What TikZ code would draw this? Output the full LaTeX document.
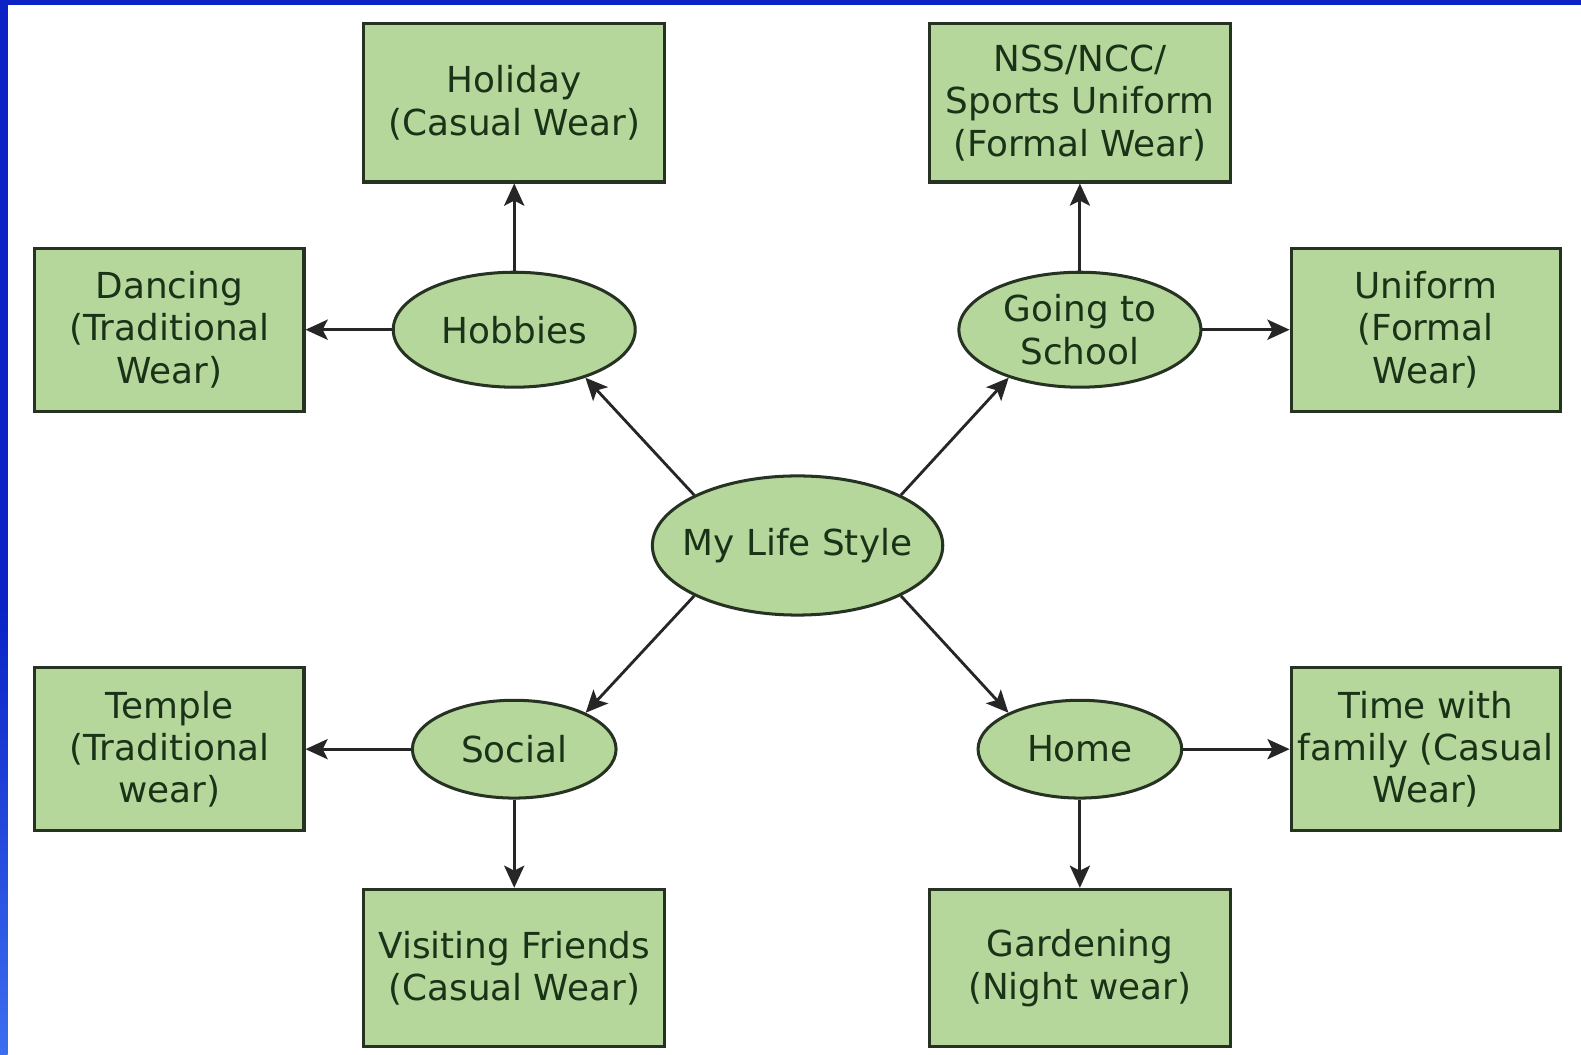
\documentclass[tikz,border=0pt]{standalone}
\usepackage{fontspec}
\setmainfont{DejaVu Sans}
\usetikzlibrary{shapes.geometric,arrows.meta}
\definecolor{boxfill}{RGB}{182,215,156}
\definecolor{boxline}{RGB}{38,50,34}
\definecolor{txt}{RGB}{26,50,23}
\definecolor{frameblue}{RGB}{10,34,198}
\definecolor{lightblue}{RGB}{60,110,240}
\tikzset{
  base/.style={fill=boxfill, draw=boxline, line width=3pt, text=txt, inner sep=0pt,
    font=\fontsize{35.5}{42}\selectfont, align=center},
  box/.style={base, rectangle, minimum width=#1},
  box/.default=299pt,
  oval/.style 2 args={base, ellipse, minimum width=#1, minimum height=#2},
  conn/.style={draw=black!85, line width=2.8pt, -{Stealth[length=22pt,width=20pt,inset=5pt]}}
}
\begin{document}
\begin{tikzpicture}[x=1pt,y=-1pt]
\useasboundingbox (0,0) rectangle (1568,1046);
\fill[white] (0,0) rectangle (1568,1046);
\fill[frameblue] (0,0) rectangle (1568,5);
\shade[top color=frameblue, bottom color=lightblue] (0,600) rectangle (7.6,1046);
\fill[frameblue] (0,0) rectangle (7.6,600);

% central and category ellipses
\node[oval={288pt}{138pt}] (c) at (791,541) {\makebox[0pt]{My Life Style}};
\node[oval={240pt}{114pt}] (hob) at (510,327) {Hobbies};
\node[oval={240pt}{114pt}] (sch) at (1071,327) {Going to\\School};
\node[oval={202pt}{97pt}] (soc) at (510,743) {Social};
\node[oval={202pt}{97pt}] (home) at (1071,743) {Home};

% boxes
\node[box, minimum height=157pt] (hol) at (510,102) {Holiday\\(Casual Wear)};
\node[box, minimum height=157pt] (nss) at (1071,102) {NSS/NCC/\\Sports Uniform\\(Formal Wear)};
\node[box=267pt, minimum height=162pt] (dan) at (168,327) {Dancing\\(Traditional\\Wear)};
\node[box=267pt, minimum height=162pt] (uni) at (1414,327) {Uniform\\(Formal\\Wear)};
\node[box=267pt, minimum height=162pt] (tem) at (168,743) {Temple\\(Traditional\\wear)};
\node[box=267pt, minimum height=162pt] (tim) at (1414,743) {Time with\\family (Casual\\Wear)};
\node[box, minimum height=156pt] (vis) at (510,960) {Visiting Friends\\(Casual Wear)};
\node[box, minimum height=156pt] (gar) at (1071,960) {Gardening\\(Night wear)};

% connectors
\draw[conn] (c.154) -- (hob.-34);
\draw[conn] (c.26) -- (sch.-146);
\draw[conn] (c.-154) -- (soc.27);
\draw[conn] (c.-26) -- (home.153);
\draw[conn] (hob.north) -- (hol.south);
\draw[conn] (hob.west) -- (dan.east);
\draw[conn] (sch.north) -- (nss.south);
\draw[conn] (sch.east) -- (uni.west);
\draw[conn] (soc.west) -- (tem.east);
\draw[conn] (soc.south) -- (vis.north);
\draw[conn] (home.east) -- (tim.west);
\draw[conn] (home.south) -- (gar.north);
\end{tikzpicture}
\end{document}
